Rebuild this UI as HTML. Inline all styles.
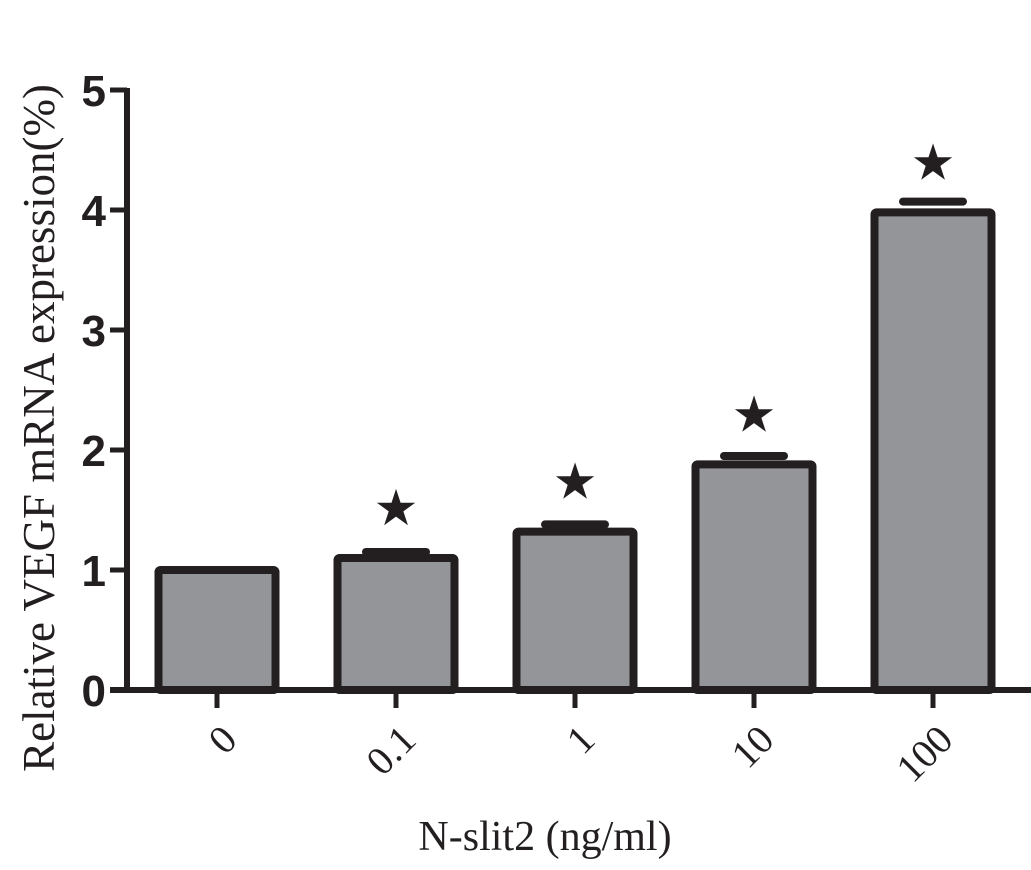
<!DOCTYPE html>
<html><head><meta charset="utf-8"><style>body{margin:0;background:#fff}svg{display:block}</style></head>
<body>
<svg width="1031" height="870" id="c">
<text transform="translate(54,428) rotate(-90)" text-anchor="middle" font-family="Liberation Serif, serif" font-size="45" fill="#231f20">Relative VEGF mRNA expression(%)</text>
<text x="545" y="850" text-anchor="middle" font-family="Liberation Serif, serif" font-size="42" fill="#231f20">N-slit2 (ng/ml)</text>
</svg>
<script>
const categories=["0","0.1","1","10","100"];
const values=[1.0,1.1,1.32,1.88,3.98];
const errors=[0,0.05,0.06,0.07,0.09];
const significant=[false,true,true,true,true];
const yTicks=[0,1,2,3,4,5];
const ns="http://www.w3.org/2000/svg",svg=document.getElementById("c");
const y=v=>690-v*120, x=i=>217+i*179;
const ink="#231f20";
function mk(t,a,p){const e=document.createElementNS(ns,t);for(const k in a)e.setAttribute(k,a[k]);(p||svg).appendChild(e);return e;}
let e;
e=mk("line",{x1:127,y1:y(5)-2,x2:127,y2:692,stroke:ink,"stroke-width":6});


e=mk("line",{x1:110,y1:690,x2:1031,y2:690,stroke:ink,"stroke-width":6});


yTicks.forEach(t=>{
 e=mk("line",{x1:110,y1:y(t),x2:127,y2:y(t),stroke:ink,"stroke-width":5});
 
 
 e=mk("text",{x:106,y:y(t)+16,"text-anchor":"end","font-family":"Liberation Sans, sans-serif","font-weight":"bold","font-size":44,fill:ink});
 e.textContent=t;
 
 
});
categories.forEach((c,i)=>{
 const cx=x(i),w=117;
 if(errors[i]>0){
  e=mk("line",{x1:cx-30,y1:y(values[i]+errors[i]),x2:cx+30,y2:y(values[i]+errors[i]),stroke:ink,"stroke-width":8,"stroke-linecap":"round"});
  
  
 }
 e=mk("rect",{x:cx-w/2,y:y(values[i]),width:w,height:690-y(values[i]),fill:"#939598",stroke:ink,"stroke-width":8,rx:2});
 
 
 e=mk("line",{x1:cx,y1:690,x2:cx,y2:708,stroke:ink,"stroke-width":5});
 
 
 e=mk("text",{transform:`translate(${cx+22},${742}) rotate(-45)`,"text-anchor":"end","font-family":"Liberation Serif, serif","font-size":40,fill:ink});
 e.textContent=c;
 
 
 if(significant[i]){
  const sy=y(values[i])-50;
  e=mk("text",{x:cx,y:sy+17,"text-anchor":"middle","font-family":"DejaVu Sans, sans-serif","font-size":50,fill:ink});
  e.textContent="★";
  
  
 }
});
</script>
</body></html>
